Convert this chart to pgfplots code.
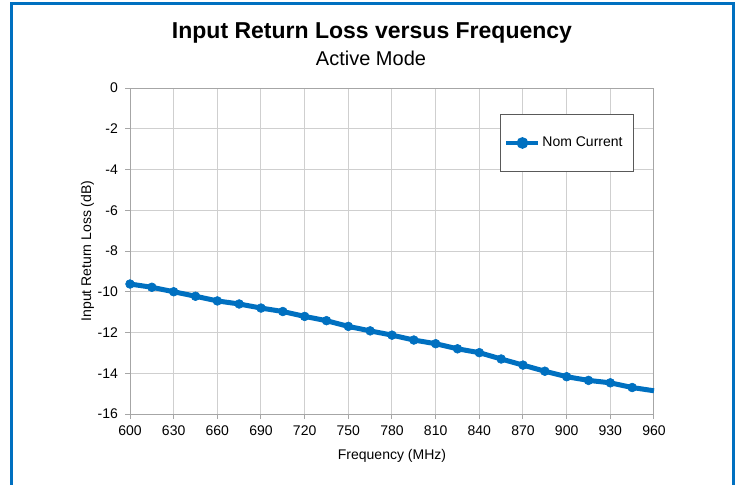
\documentclass[border=0pt]{standalone}
\usepackage{pgfplots}
\pgfplotsset{compat=1.18}
\usepackage{fontspec}
\setmainfont{Liberation Sans}
\definecolor{serblue}{HTML}{0070C0}
\definecolor{gridgray}{HTML}{CFCFCF}
\definecolor{axgray}{HTML}{A6A6A6}
\pgfplotstableread{
f rl
600 -9.62
615 -9.78
630 -10.00
645 -10.22
660 -10.45
675 -10.60
690 -10.80
705 -10.97
720 -11.21
735 -11.42
750 -11.70
765 -11.92
780 -12.13
795 -12.37
810 -12.55
825 -12.80
840 -12.99
855 -13.30
870 -13.60
885 -13.90
900 -14.17
915 -14.35
930 -14.47
945 -14.70
960 -14.86
}\datatable
\begin{document}
\begin{tikzpicture}
\useasboundingbox (0,0) rectangle (370pt,242pt);
\draw[serblue, line width=1.5pt] (5.75pt,-3pt) -- (5.75pt,240.25pt) -- (366.5pt,240.25pt) -- (366.5pt,-3pt);
\node[font=\bfseries\fontsize{11.5}{13}\selectfont] at (186pt,225.5pt) {Input Return Loss versus Frequency};
\node[font=\fontsize{10}{12}\selectfont] at (185.5pt,213pt) {Active Mode};
\begin{axis}[
  at={(65pt,35pt)}, anchor=south west,
  width=262pt, height=163pt, scale only axis,
  xmin=600, xmax=960, ymin=-16, ymax=0,
  xtick={600,630,...,960}, ytick={-16,-14,...,0},
  grid=major, grid style={gridgray, line width=0.5pt},
  axis line style={axgray, line width=0.5pt},
  tick style={axgray, line width=0.5pt},
  tick align=outside, major tick length=2.5pt,
  xtick pos=left, ytick pos=left,
  /pgf/number format/assume math mode=true,
  ticklabel style={font=\fontsize{7}{8}\selectfont},
  label style={font=\fontsize{7}{8}\selectfont},
  xlabel={Frequency (MHz)}, ylabel={Input Return Loss (dB)},
  ylabel style={xshift=0pt, yshift=-5pt},
  clip=false,
  legend style={at={(0.706,0.920)}, anchor=north west, draw=black!65, line width=0.5pt,
    font=\fontsize{7}{8}\selectfont, inner xsep=2pt, inner ysep=9pt,
    nodes={inner xsep=1pt}},
  legend cell align=left,
  legend image code/.code={
    \draw[serblue, line width=2pt] (0pt,0pt) -- (16pt,0pt);
    \fill[serblue] (8pt,0pt) circle (1.6pt);
  },
]
\addplot[serblue, line width=2.5pt, mark=*, mark size=2.2pt,
  mark options={line width=0.3pt, fill=serblue}, mark indices={1,...,24}] table[x=f,y=rl]{\datatable};
\addlegendentry{Nom Current\rule{2.5pt}{0pt}}
\end{axis}
\end{tikzpicture}
\end{document}
